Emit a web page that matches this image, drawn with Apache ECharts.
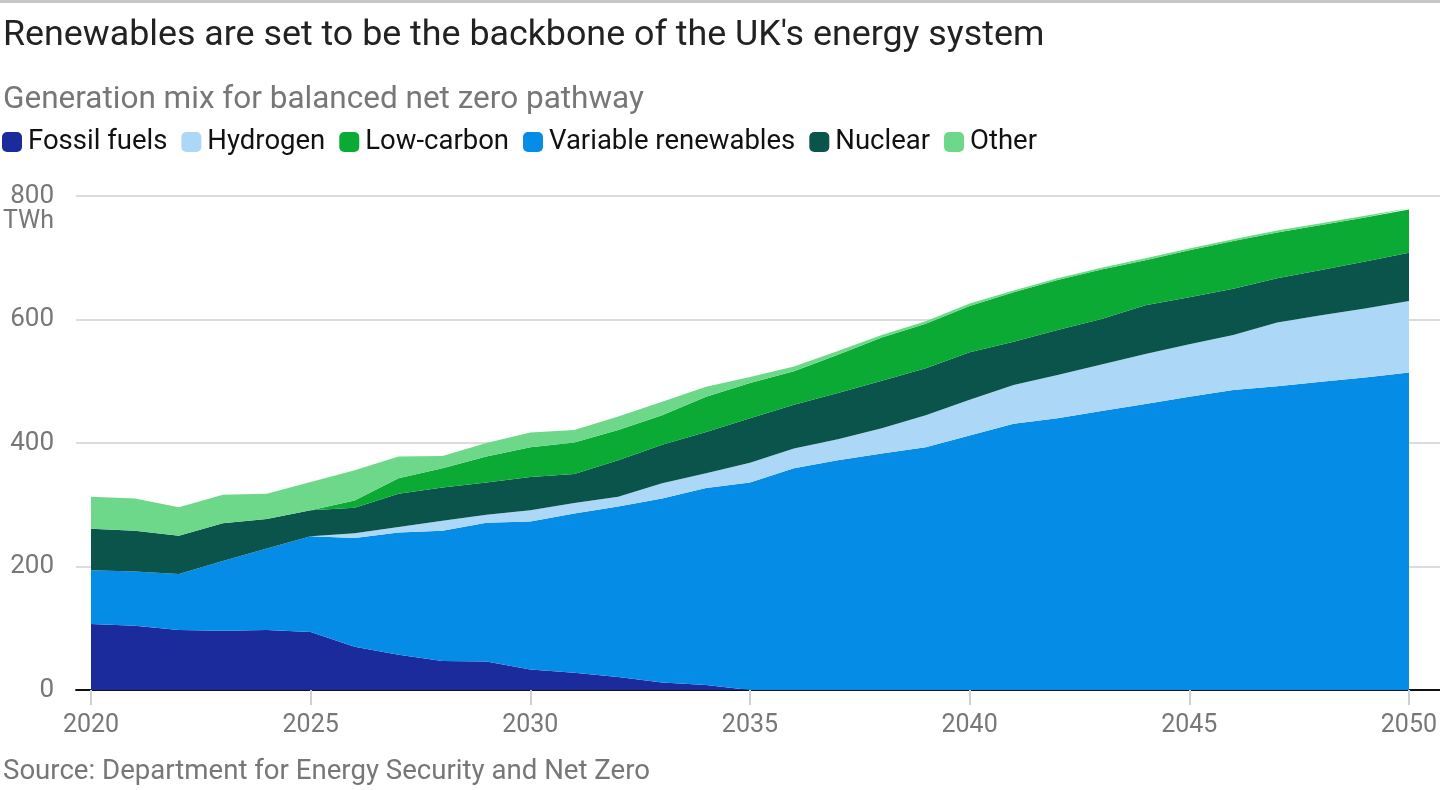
<!DOCTYPE html>
<html>
<head>
<meta charset="utf-8">
<script src="https://cdn.jsdelivr.net/npm/echarts@6/dist/echarts.min.js"></script>
<style>
html,body{margin:0;padding:0;background:#fff;}
#chart{width:1440px;height:790px;}
</style>
</head>
<body>
<div id="chart"></div>
<script>
const years = [2020,2021,2022,2023,2024,2025,2026,2027,2028,2029,2030,2031,2032,2033,2034,2035,2036,2037,2038,2039,2040,2041,2042,2043,2044,2045,2046,2047,2048,2049,2050];
const fossilFuels = [107,104,97,96,97,94,70,57,47,46,33,28,21,12,8,0,0,0,0,0,0,0,0,0,0,0,0,0,0,0,0];
const variableRenewables = [87,88,91,113,132,155,176,198,211,225,240,258,276,298,319,336,359,372,383,393,412,431,440,452,463,475,486,492,499,506,514];
const hydrogen = [0,0,0,0,0,0,8,9,16,13,18,17,16,25,24,32,32,34,41,52,58,63,70,75,81,85,89,103,108,112,116];
const nuclear = [67,66,62,61,48,42,41,54,54,52,54,47,59,62,67,72,71,75,77,76,77,70,73,74,79,76,75,72,73,76,78];
const lowCarbon = [0,0,0,0,0,0,12,25,31,42,48,51,49,48,57,57,54,62,70,72,75,80,81,80,73,76,77,74,73,71,70];
const other = [52,52,46,46,41,46,49,35,20,22,24,20,22,22,16,10,8,6,4,4,4,3,3,3,3,3,3,3,3,3,2];
const xTickLabels = [2020,2025,2030,2035,2040,2045,2050];

const FONT = 'Roboto, "Noto Sans", sans-serif';
const seriesDefs = [
  {name:'Fossil fuels', data: fossilFuels, color:'#1b2b9c'},
  {name:'Variable renewables', data: variableRenewables, color:'#058ce6'},
  {name:'Hydrogen', data: hydrogen, color:'#acd7f6'},
  {name:'Nuclear', data: nuclear, color:'#0b544b'},
  {name:'Low-carbon', data: lowCarbon, color:'#0aaa35'},
  {name:'Other', data: other, color:'#6dd88a'}
];

const chart = echarts.init(document.getElementById('chart'), null, {renderer:'canvas'});
chart.setOption({
  animation: false,
  backgroundColor: '#fff',
  textStyle: {fontFamily: FONT},
  graphic: [{type:'rect', left:0, top:0, shape:{width:1440, height:3}, style:{fill:'#c6c6c6'}}],
  title: [
    {text:"Renewables are set to be the backbone of the UK's energy system", left:0, top:15, padding:[0,0,0,3],
     textStyle:{fontFamily:FONT, fontSize:35.8, fontWeight:'normal', color:'#222', lineHeight:42}},
    {text:'Generation mix for balanced net zero pathway', left:0, top:81, padding:[0,0,0,3],
     textStyle:{fontFamily:FONT, fontSize:31.5, fontWeight:'normal', color:'#777', lineHeight:38}},
    {text:'Source: Department for Energy Security and Net Zero', left:0, top:756, padding:[0,0,0,3],
     textStyle:{fontFamily:FONT, fontSize:27.6, fontWeight:'normal', color:'#777', lineHeight:32}}
  ],
  legend: {
    left: 2, top: 128, padding: 0,
    data: ['Fossil fuels','Hydrogen','Low-carbon','Variable renewables','Nuclear','Other'],
    icon: 'roundRect', itemWidth: 20, itemHeight: 20, itemGap: 14,
    textStyle: {fontFamily:FONT, fontSize:27.5, color:'#111', padding:[0,0,0,1]}
  },
  grid: [
    {left:68, right:0, top:196, bottom:100, containLabel:false},
    {left:91, right:31, top:196, bottom:100, containLabel:false},
    {left:30, right:0, top:196, bottom:100, containLabel:false}
  ],
  xAxis: [
    {
      gridIndex:0, type:'value', min:2019.476, max:2050.706,
      axisLine:{show:true, lineStyle:{color:'#111', width:2}},
      axisTick:{show:false}, axisLabel:{show:false}, splitLine:{show:false}
    },
    {
      gridIndex:1, type:'category', data: years, boundaryGap:false,
      axisLine:{show:false}, axisTick:{show:false}, axisLabel:{show:false}, splitLine:{show:false}
    },
    {
      gridIndex:2, type:'value', min:2018.6113, max:2050.706,
      axisLine:{show:false},
      axisTick:{show:true, customValues: xTickLabels, length:15, lineStyle:{color:'#d0d0d0', width:2}},
      axisLabel:{show:true, customValues: xTickLabels, formatter: v => String(v), margin:23,
                 fontFamily:FONT, fontSize:25, color:'#777'},
      splitLine:{show:false}
    }
  ],
  yAxis: [
    {
      gridIndex:0, type:'value', min:0, max:800, interval:200,
      name:'TWh', nameLocation:'end', nameGap:-13,
      nameTextStyle:{fontFamily:FONT, fontSize:25, color:'#777', align:'right', verticalAlign:'top', padding:[0,22,0,0]},
      axisLine:{show:false}, axisTick:{show:false},
      axisLabel:{margin:22, fontFamily:FONT, fontSize:26, color:'#777'},
      splitLine:{show:true, lineStyle:{color:'#dcdcdc', width:2}}
    },
    {
      gridIndex:1, type:'value', min:0, max:800, interval:200,
      axisLine:{show:false}, axisTick:{show:false}, axisLabel:{show:false}, splitLine:{show:false}
    },
    {
      gridIndex:2, type:'value', min:0, max:800, interval:200,
      axisLine:{show:false}, axisTick:{show:false}, axisLabel:{show:false}, splitLine:{show:false}
    }
  ],
  series: seriesDefs.map(s => ({
    name: s.name, type:'line', stack:'total', xAxisIndex:1, yAxisIndex:1,
    data: s.data,
    showSymbol:false, symbol:'none',
    lineStyle:{width:0}, itemStyle:{color:s.color},
    areaStyle:{color:s.color, opacity:1},
    emphasis:{disabled:true}, z:1
  }))
});
</script>
</body>
</html>
